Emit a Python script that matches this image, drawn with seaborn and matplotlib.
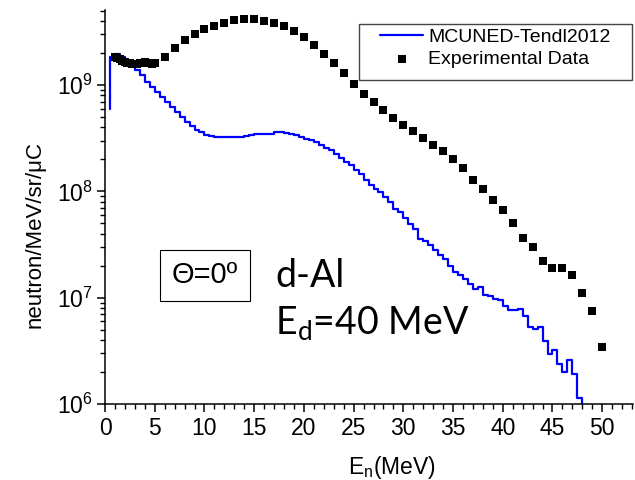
import numpy as np
import pandas as pd
import matplotlib
matplotlib.use("Agg")
import matplotlib.pyplot as plt
import seaborn as sns
from matplotlib.patches import Rectangle
from matplotlib.ticker import MultipleLocator, LogLocator, NullFormatter

# MCUNED-Tendl2012 simulation: 0.5 MeV bins, left edges and flux per bin
mc_bin_width = 0.5
mc_left_edges = np.arange(0.5, 48.5, mc_bin_width)
mc_floor = 6.0e8  # level the histogram rises from at its first edge
mc_flux = [
    1.85e9, 1.95e9, 1.85e9, 1.70e9, 1.55e9, 1.38e9, 1.24e9, 1.07e9, 9.6e8, 8.6e8,
    7.8e8, 6.95e8, 6.2e8, 5.6e8, 5.0e8, 4.5e8, 4.13e8, 3.82e8, 3.6e8, 3.43e8,
    3.33e8, 3.25e8, 3.23e8, 3.22e8, 3.23e8, 3.25e8, 3.28e8, 3.33e8, 3.43e8, 3.45e8,
    3.46e8, 3.47e8, 3.47e8, 3.63e8, 3.6e8, 3.55e8, 3.5e8, 3.4e8, 3.28e8, 3.15e8,
    3.05e8, 2.92e8, 2.72e8, 2.58e8, 2.44e8, 2.24e8, 2.05e8, 1.9e8, 1.76e8, 1.6e8,
    1.45e8, 1.28e8, 1.14e8, 1.06e8, 9.8e7, 8.8e7, 7.9e7, 6.9e7, 6.4e7, 5.6e7,
    4.9e7, 4.4e7, 3.6e7, 3.45e7, 3.15e7, 2.8e7, 2.55e7, 2.33e7, 2.0e7, 1.75e7,
    1.65e7, 1.5e7, 1.36e7, 1.21e7, 1.27e7, 1.05e7, 1.04e7, 9.8e6, 9.6e6, 8.4e6,
    7.6e6, 7.7e6, 7.9e6, 6.8e6, 5.25e6, 5.1e6, 5.3e6, 3.9e6, 2.95e6, 3.2e6,
    2.4e6, 2.0e6, 2.6e6, 1.9e6, 1.15e6, 5.0e5,
]

# Experimental data
exp_energy = [
    1.0, 1.25, 1.5, 1.75, 2.0, 2.25, 2.5, 2.75, 3.0, 3.25, 3.5, 3.75, 4.0, 4.25, 4.5, 4.75, 5.0,
    6, 7, 8, 9, 10, 11, 12, 13, 14, 15, 16, 17, 18, 19, 20, 21, 22, 23, 24, 25, 26, 27, 28,
    29, 30, 31, 32, 33, 34, 35, 36, 37, 38, 39, 40, 41, 42, 43, 44, 45, 46, 47, 48, 49, 50,
]
exp_flux = [
    1.85e9, 1.8e9, 1.75e9, 1.7e9, 1.66e9, 1.63e9, 1.6e9, 1.58e9, 1.57e9, 1.58e9, 1.6e9,
    1.62e9, 1.66e9, 1.63e9, 1.6e9, 1.58e9, 1.6e9,
    1.85e9, 2.23e9, 2.66e9, 3.02e9, 3.37e9, 3.6e9, 3.87e9, 4.08e9, 4.22e9, 4.17e9,
    4.02e9, 3.87e9, 3.6e9, 3.25e9, 2.84e9, 2.4e9, 1.96e9, 1.6e9, 1.3e9, 1.03e9,
    8.2e8, 6.9e8, 5.8e8, 4.9e8, 4.2e8, 3.7e8, 3.2e8, 2.76e8, 2.42e8, 2.0e8,
    1.66e8, 1.29e8, 1.05e8, 8.4e7, 6.7e7, 5.1e7, 3.66e7, 3.03e7, 2.22e7, 1.92e7,
    1.89e7, 1.62e7, 1.1e7, 7.5e6, 3.47e6,
]

x_ticks = [0, 5, 10, 15, 20, 25, 30, 35, 40, 45, 50]

sns.set_theme(style="ticks")
plt.rcParams["font.family"] = ["Liberation Sans", "DejaVu Sans"]
plt.rcParams["mathtext.fontset"] = "custom"
plt.rcParams["mathtext.rm"] = "Liberation Sans"
plt.rcParams["mathtext.it"] = "Liberation Sans:italic"
plt.rcParams["mathtext.bf"] = "Liberation Sans:bold"
plt.rcParams["text.color"] = "black"
plt.rcParams["axes.labelcolor"] = "black"

fig = plt.figure(figsize=(6.35, 4.8), dpi=100)
ax = fig.add_axes([0.1654, 0.1583, 0.8315, 0.8209])

mc_df = pd.DataFrame({
    "E": np.concatenate([[mc_left_edges[0]], mc_left_edges]),
    "flux": np.concatenate([[mc_floor], mc_flux]),
})
exp_df = pd.DataFrame({"E": exp_energy, "flux": exp_flux})

sns.lineplot(data=mc_df, x="E", y="flux", ax=ax, color="#0000ff", linewidth=1.6,
             drawstyle="steps-post", estimator=None, sort=False,
             label="MCUNED-Tendl2012")
sns.scatterplot(data=exp_df, x="E", y="flux", ax=ax, marker="s", s=40,
                color="black", edgecolor="black", linewidth=0,
                label="Experimental Data", zorder=3)

ax.set_yscale("log")
ax.set_xlim(0, 53.1)
ax.set_ylim(1e6, 5.1e9)

ax.set_xticks(x_ticks)
ax.xaxis.set_minor_locator(MultipleLocator(1))
ax.yaxis.set_major_locator(LogLocator(base=10, numticks=10))
ax.yaxis.set_minor_locator(LogLocator(base=10, subs=np.arange(2, 10), numticks=10))
ax.yaxis.set_minor_formatter(NullFormatter())

for side in ("top", "right"):
    ax.spines[side].set_visible(False)
for side in ("left", "bottom"):
    ax.spines[side].set_linewidth(1.1)
    ax.spines[side].set_color("black")

ax.tick_params(axis="both", which="major", direction="out", length=6, width=1.1,
               labelsize=16.5, color="black", labelcolor="black", pad=3)
ax.tick_params(axis="both", which="minor", direction="out", length=3.5, width=1.0,
               color="black")

ax.set_xlabel(r"E$_\mathregular{n}$(MeV)", fontsize=16.5)
ax.set_ylabel("neutron/MeV/sr/\u03bcC", fontsize=16)
ax.xaxis.set_label_coords(0.544, -0.128)
ax.yaxis.set_label_coords(-0.112, 0.429)

# legend entries without the default frame; a plain box is drawn around them
leg = ax.legend(loc="upper left", bbox_to_anchor=(0.521, 0.953), borderaxespad=0,
                borderpad=0, fontsize=14, frameon=False, handlelength=2.2,
                handletextpad=0.28, labelspacing=0.2)
ax.add_patch(Rectangle((0.481, 0.822), 0.517, 0.142, transform=ax.transAxes,
                       facecolor="none", edgecolor="#444444", linewidth=1.0,
                       clip_on=False, zorder=4))

ax.text(0.189, 0.327, "\u0398=0\u00ba", transform=ax.transAxes, ha="center",
        va="center", fontsize=21, family=["Liberation Sans", "DejaVu Sans"],
        bbox=dict(boxstyle="square,pad=0.4", facecolor="white",
                  edgecolor="black", linewidth=0.8))
ax.text(0.322, 0.297, "d-Al", transform=ax.transAxes, ha="left",
        va="baseline", fontsize=27, family=["Lato", "DejaVu Sans"])
ax.text(0.322, 0.175, r"E$_\mathregular{d}$=40 MeV", transform=ax.transAxes,
        ha="left", va="baseline", fontsize=27, family=["Lato", "DejaVu Sans"])

fig.savefig("out.png", dpi=100)
